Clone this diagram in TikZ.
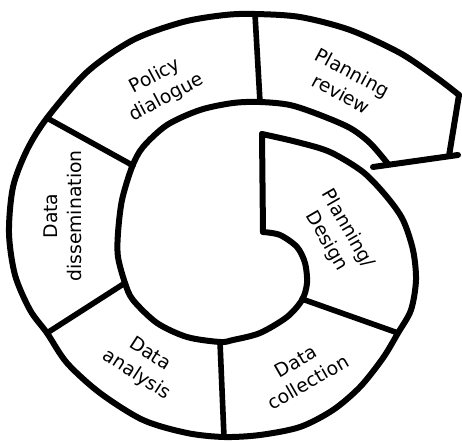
\documentclass[tikz,border=0pt]{standalone}
\usepackage{fontspec}
\setmainfont{DejaVu Sans}
\begin{document}
\begin{tikzpicture}[x=0.5pt,y=-0.5pt,wall/.style={line width=3pt,line cap=round,line join=round},divider/.style={line width=2.8pt,line cap=round},phase/.style={align=center,font=\fontsize{9.4}{12}\selectfont,inner sep=0pt}]
\useasboundingbox (0,0) rectangle (462,443);

% ends of the spiral band
\coordinate (innerStart) at (263,232);
\coordinate (outerStart) at (262,134);
\coordinate (outerEnd) at (459,95);
\coordinate (notch) at (449,156);
\coordinate (tipL) at (373,167);
\coordinate (tipR) at (458,155);

% dividers between the phases
\coordinate (reviewO) at (255,14);
\coordinate (reviewI) at (260,102);
\coordinate (policyO) at (47,118);
\coordinate (policyI) at (132,165);
\coordinate (dissemO) at (47,333);
\coordinate (dissemI) at (125,283);
\coordinate (analysisI) at (220,342);
\coordinate (analysisO) at (224,437);
\coordinate (collectI) at (302,299);
\coordinate (collectO) at (398,333);

% inner wall
\draw[wall] plot[smooth] coordinates {(263,232) (280,235) (297,247) (305,263) (307,283) (302,300) (287,317) (260,333) (233,340) (220,342) (187,337) (157,323) (133,300) (125,283) (118,257) (118,233) (122,200) (132,167) (143,147) (167,125) (200,110) (233,103) (260,102) (290,105) (320,115) (350,128) (370,143) (388,164)};
% outer wall
\draw[wall] plot[smooth] coordinates {(262,134) (297,142) (330,152) (363,172) (387,197) (403,220) (413,250) (416,280) (411,310) (398,333) (383,358) (360,387) (333,410) (300,427) (260,435) (224,437) (187,433) (143,420) (100,393) (67,363) (47,333) (30,310) (15,275) (9,233) (13,187) (27,150) (47,118) (87,72) (133,40) (183,22) (225,15) (255,14) (300,17) (350,30) (400,53) (437,78) (459,95)};
\draw[wall] (innerStart) -- (outerStart);
\draw[wall] (outerEnd) -- (notch);
\draw[wall] (tipL) -- (tipR);

\draw[divider] (reviewO) -- (reviewI);
\draw[divider] (policyO) -- (policyI);
\fill (policyI) circle (4);
\draw[divider] (dissemO) -- (dissemI);
\draw[divider] (analysisI) -- (analysisO);
\draw[divider] (collectI) -- (collectO);

\node[phase,rotate=28] (policy) at (161,87) {Policy\\dialogue};
\node[phase,rotate=-28] (review) at (347,83) {Planning\\review};
\node[phase,rotate=90] (dissem) at (63,216) {Data\\dissemination};
\node[phase,rotate=-60] (design) at (337,235) {Planning/\\Design};
\node[phase,rotate=30] (collect) at (302,372) {Data\\collection};
\node[phase,rotate=-33] (analysis) at (143,365) {Data\\analysis};
\end{tikzpicture}
\end{document}
